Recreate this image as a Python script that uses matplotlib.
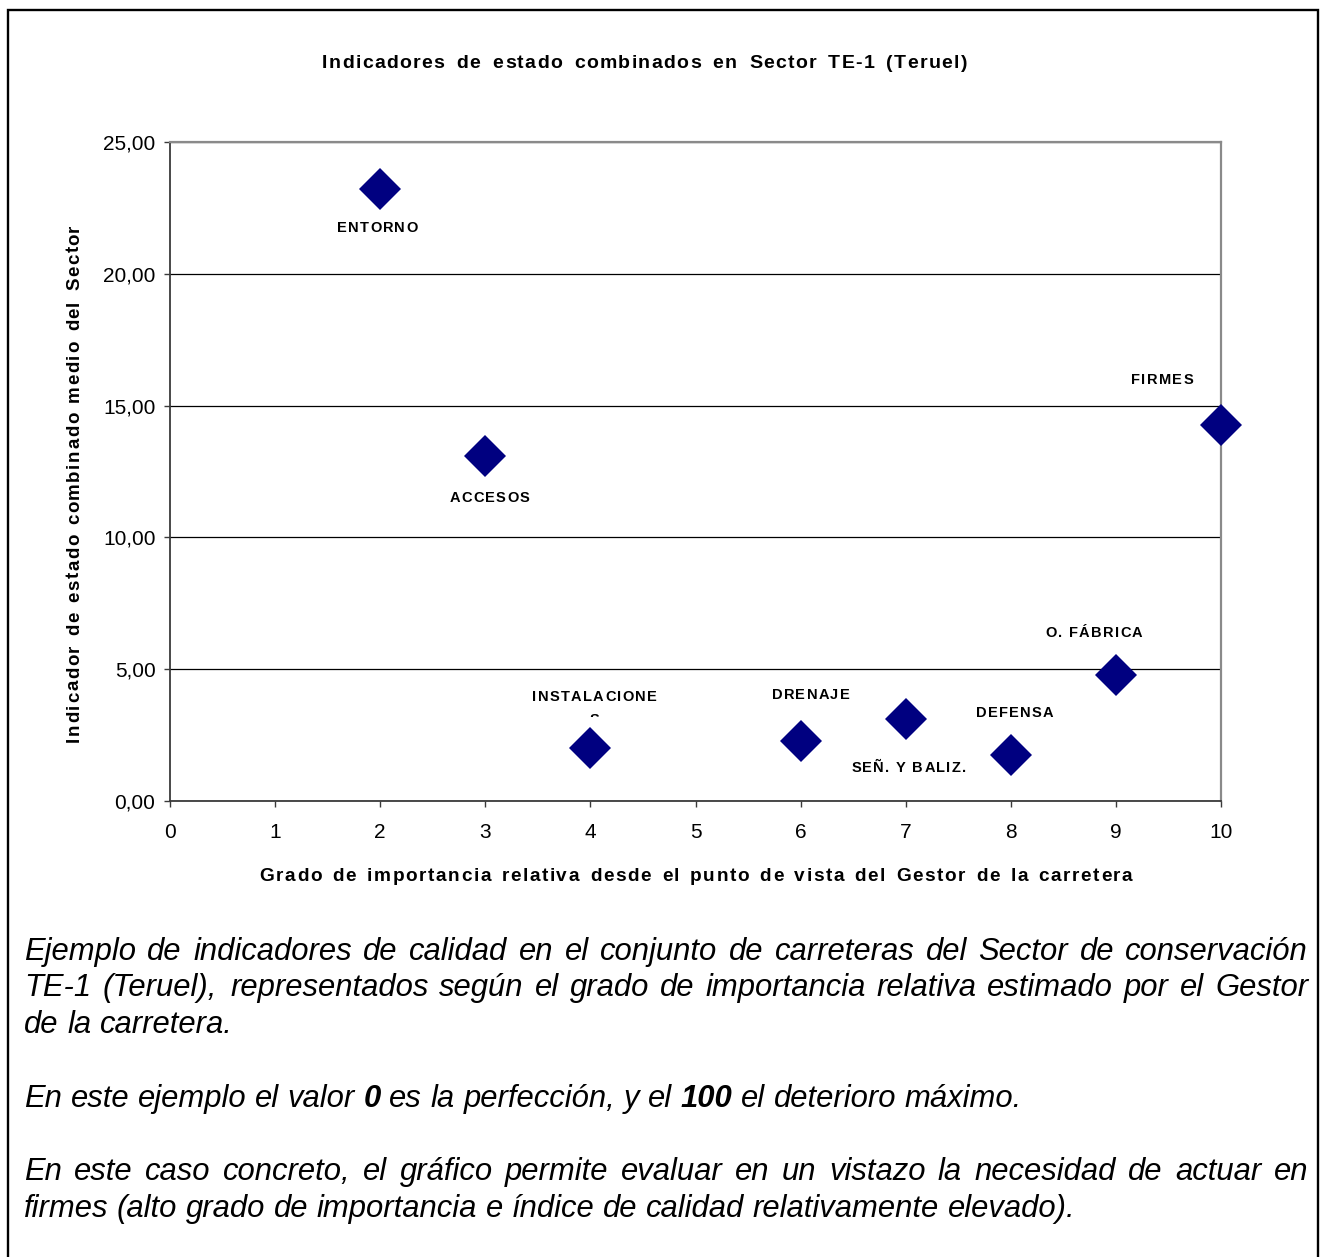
import numpy as np
import matplotlib
matplotlib.use("Agg")
import matplotlib.pyplot as plt
from matplotlib.font_manager import FontProperties, findfont
from matplotlib.ft2font import FT2Font
from matplotlib.transforms import IdentityTransform
from matplotlib.patches import Rectangle
from matplotlib.ticker import FuncFormatter, FixedLocator

plt.rcParams["font.family"] = ["Liberation Sans", "DejaVu Sans"]

# ---- data -------------------------------------------------------------
grado = [2, 3, 4, 6, 7, 8, 9, 10]
indicador = [23.22, 13.09, 2.01, 2.28, 3.11, 1.75, 4.78, 14.26]
elementos = ["ENTORNO", "ACCESOS", "INSTALACIONES", "DRENAJE",
             "SEÑ. Y BALIZ.", "DEFENSA", "O. FÁBRICA", "FIRMES"]
x_ticks = list(range(0, 11))
y_ticks = [0, 5, 10, 15, 20, 25]

titulo = "Indicadores de estado combinados en Sector TE-1 (Teruel)"
eje_x = "Grado de importancia relativa desde el punto de vista del Gestor de la carretera"
eje_y = "Indicador de estado combinado medio del Sector"

# caption lines (text, justified); words wrapped in * are bold
nota = [
    ("Ejemplo de indicadores de calidad en el conjunto de carreteras del Sector de conservación", True),
    ("TE-1 (Teruel), representados según el grado de importancia relativa estimado por el Gestor", True),
    ("de la carretera.", False),
    ("En este ejemplo el valor *0* es la perfección, y el *100* el deterioro máximo.", False),
    ("En este caso concreto, el gráfico permite evaluar en un vistazo la necesidad de actuar en", True),
    ("firmes (alto grado de importancia e índice de calidad relativamente elevado).", False),
]

# ---- figure -----------------------------------------------------------
W, H, DPI = 1321, 1257, 100
fig = plt.figure(figsize=(W / DPI, H / DPI), dpi=DPI)
fig.patch.set_facecolor("white")
PX = IdentityTransform()

_fonts = {}


def advances(s, size, weight="normal", style="normal"):
    key = (weight, style)
    if key not in _fonts:
        path = findfont(FontProperties(family="Liberation Sans", weight=weight, style=style))
        _fonts[key] = FT2Font(path)
    ft = _fonts[key]
    ft.set_size(size, DPI)
    out = []
    for c in s:
        g = ft.load_char(ord(c))
        out.append(g.linearHoriAdvance / 65536)
    return out


def spaced(x, y, s, size, extra=0.0, width=None, weight="bold", style="normal",
           ha="center", rotation=0, clip=None, zorder=6):
    """Draw s letter by letter (display pixels, baseline at y) with tracking.

    `extra` is added after every letter; if `width` is given, the remaining
    room is shared out among the word spaces.
    """
    adv = advances(s, size, weight, style)
    gaps = [extra] * len(s)
    gaps[-1] = 0.0
    if width is not None:
        n_sp = s.count(" ")
        rest = width - sum(adv) - sum(gaps)
        if n_sp:
            gaps = [g + (rest / n_sp if c == " " else 0.0) for g, c in zip(gaps, s)]
        elif len(s) > 1:
            gaps = [g + rest / (len(s) - 1) for g in gaps[:-1]] + [0.0]
    total = sum(adv) + sum(gaps)
    pos = {"left": 0.0, "center": -total / 2, "right": -total}[ha]
    ang = np.deg2rad(rotation)
    for c, a, g in zip(s, adv, gaps):
        if c != " ":
            t = fig.text(x + pos * np.cos(ang), y + pos * np.sin(ang), c,
                         transform=PX, fontsize=size, fontweight=weight,
                         fontstyle=style, ha="left", va="baseline",
                         rotation=rotation, rotation_mode="anchor",
                         color="black", zorder=zorder)
            if clip is not None:
                t.set_clip_path(clip)
        pos += a + g


# outer frame
fig.add_artist(Rectangle((8, -20), 1310, H - 10 + 20, transform=PX,
                         fill=False, edgecolor="black", linewidth=1.7))

# ---- axes -------------------------------------------------------------
L, R, T, B = 170, 1221, 142, 801
ax = fig.add_axes([L / W, 1 - B / H, (R - L) / W, (B - T) / H])
ax.set_xlim(0, 10)
ax.set_ylim(0, 25)
ax.xaxis.set_major_locator(FixedLocator(x_ticks))
ax.yaxis.set_major_locator(FixedLocator(y_ticks))
ax.yaxis.set_major_formatter(FuncFormatter(lambda v, p: f"{v:.2f}".replace(".", ",")))
ax.yaxis.grid(True, color="black", linewidth=0.9)
ax.set_axisbelow(True)
for side in ("left", "bottom"):
    ax.spines[side].set_color("#3a3a3a")
    ax.spines[side].set_linewidth(1.3)
for side in ("top", "right"):
    ax.spines[side].set_color("#8a8a8a")
    ax.spines[side].set_linewidth(1.6)
ax.tick_params(direction="out", length=4.5, width=1.0, color="#3a3a3a",
               labelsize=15, labelcolor="black")
ax.tick_params(axis="x", pad=11.5)
ax.tick_params(axis="y", pad=6)

ax.plot(grado, indicador, linestyle="none", marker="D", markersize=21.3,
        markerfacecolor="#000080", markeredgewidth=0, clip_on=False, zorder=5)

# data labels: offsets (pixels) of label centre / baseline from the marker
offsets = [(-3, 43), (4, 46), (4, -47), (10, -42), (3, 53), (4, -38), (-22, -38), (-59, -41)]
fig.canvas.draw()
for gx, gy, name, (dx, dy) in zip(grado, indicador, elementos, offsets):
    mx, my = ax.transData.transform((gx, gy))
    if name == "INSTALACIONES":
        spaced(mx + dx, my - dy, name[:-1], 10.5, extra=1.3)
        clip = Rectangle((mx - 50, H - 717), 100, 30, transform=PX)
        spaced(mx + dx, my - dy - 23, name[-1], 10.5, clip=clip)
    else:
        spaced(mx + dx, my - dy, name, 10.5, extra=1.3)

# ---- titles -----------------------------------------------------------
spaced(644.5, H - 68, titulo, 14, extra=1.3, width=645)
spaced(696, H - 881, eje_x, 13.7, extra=1.6, width=873)
spaced(79, H - 483, eje_y, 13.5, extra=1.5, width=517, rotation=90)

# ---- caption ----------------------------------------------------------
CAP = 22.3
left, right = 24, 1308
baselines = [960, 996, 1033, 1107, 1180, 1217]
space_w = advances(" ", CAP, "normal", "italic")[0]
for (line, justify), yb in zip(nota, baselines):
    words = []
    for w in line.split(" "):
        words.append((w.replace("*", ""), "*" in w))
    widths = [sum(advances(w, CAP, "bold" if b else "normal", "italic")) for w, b in words]
    gap = (right - left - sum(widths)) / (len(words) - 1) if justify else space_w
    x = left
    for (w, b), wd in zip(words, widths):
        fig.text(x, H - yb, w, transform=PX, fontsize=CAP, fontstyle="italic",
                 fontweight="bold" if b else "normal", ha="left", va="baseline",
                 color="black")
        x += wd + gap

fig.savefig("out.png", dpi=DPI, facecolor="white")
